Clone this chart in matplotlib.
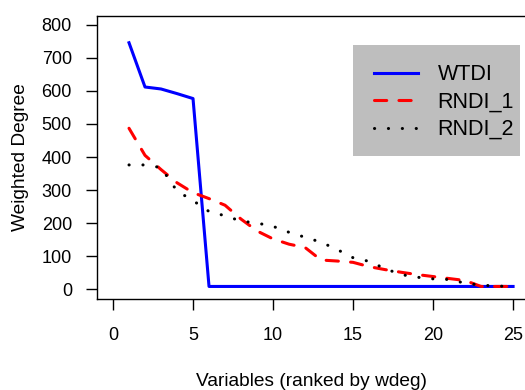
import matplotlib
matplotlib.use('Agg')
import matplotlib.pyplot as plt
from matplotlib.patches import Rectangle

plt.rcParams['font.family'] = ['Liberation Sans', 'DejaVu Sans']

# Variables ranked by weighted degree
rank = [1, 2, 3, 4, 5, 6, 7, 8, 9, 10, 11, 12, 13, 14, 15, 16, 17, 18, 19, 20, 21, 22, 23, 24, 25]
wtdi = [746, 612, 606, 592, 577, 8, 8, 8, 8, 8, 8, 8, 8, 8, 8, 8, 8, 8, 8, 8, 8, 8, 8, 8, 8]
rndi_1 = [487, 405, 362, 322, 292, 274, 254, 212, 176, 152, 136, 126, 88, 85, 81, 68, 59, 51, 44, 38, 32, 26, 8, 8, 8]
rndi_2 = [376, 376, 368, 297, 268, 235, 222, 206, 200, 190, 172, 157, 142, 120, 95, 84, 62, 44, 36, 31, 29, 18, 12, 9, 8]

fig = plt.figure(figsize=(5.25, 3.9), dpi=100)
ax = fig.add_axes([97 / 525, 1 - 299 / 390, 430 / 525, 283 / 390])

ax.plot(rank, wtdi, color='#0000ff', lw=2.2, label='WTDI')
ax.plot(rank, rndi_1, color='#ff0000', lw=2.2, linestyle=(0, (4, 4)),
        dash_capstyle='round', label='RNDI_1')
ax.plot(rank, rndi_2, color='black', lw=2.2, linestyle=(0, (0.05, 4.5)),
        dash_capstyle='round', label='RNDI_2')

ax.set_xlim(-1, 25.87)
ax.set_ylim(-30, 827)
ax.set_xticks([0, 5, 10, 15, 20, 25])
ax.set_yticks([0, 100, 200, 300, 400, 500, 600, 700, 800])
ax.tick_params(axis='both', direction='out', length=8, width=1, labelsize=13)
ax.tick_params(axis='x', pad=12)
ax.tick_params(axis='y', pad=10)
for s in ax.spines.values():
    s.set_linewidth(1)

ax.set_xlabel('Variables (ranked by wdeg)', fontsize=13.8, labelpad=21)
ax.set_ylabel('Weighted Degree', fontsize=13.8, labelpad=9)

# grey legend box
ax.add_patch(Rectangle((0.595, 0.505), 0.389, 0.3925, transform=ax.transAxes,
                       facecolor='#bebebe', edgecolor='none', zorder=4))
leg = ax.legend(loc='upper left', bbox_to_anchor=(0.598, 0.898), frameon=False,
                fontsize=15.5, handlelength=2.05, handletextpad=0.93,
                labelspacing=0.3, borderpad=0.9, borderaxespad=0)
leg.set_zorder(5)

fig.savefig('out.png', dpi=100)
